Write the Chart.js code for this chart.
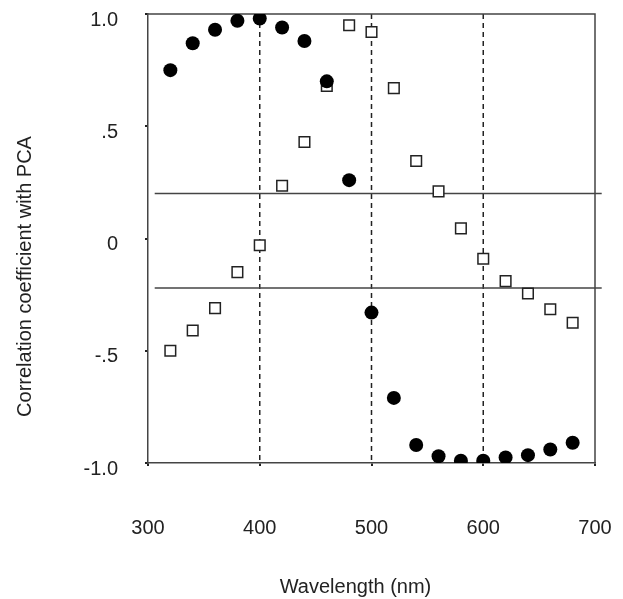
<!DOCTYPE html>
<html>
<head>
<meta charset="utf-8">
<script src="https://cdn.jsdelivr.net/npm/chart.js@4"></script>
<style>
  body { margin: 0; background: #fff; }
  canvas { display: block; }
</style>
</head>
<body>
<canvas id="pcaChart" width="623" height="599"></canvas>
<script>
// wavelength (nm) of each sample
const wavelengths = [320, 340, 360, 380, 400, 420, 440, 460, 480, 500, 520, 540, 560, 580, 600, 620, 640, 660, 680];
// filled circles
const circleValues = [0.75, 0.87, 0.93, 0.97, 0.98, 0.94, 0.88, 0.70, 0.26, -0.33, -0.71, -0.92, -0.97, -0.99, -0.99, -0.975, -0.965, -0.94, -0.91];
// open squares
const squareValues = [-0.50, -0.41, -0.31, -0.15, -0.03, 0.235, 0.43, 0.68, 0.95, 0.92, 0.67, 0.345, 0.21, 0.045, -0.09, -0.19, -0.245, -0.315, -0.375];

const yTickLabels = { "1": "1.0", "0.5": ".5", "0": "0", "-0.5": "-.5", "-1": "-1.0" };
const xTitle = "Wavelength (nm)";
const yTitle = "Correlation coefficient with PCA";
const dashedAt = [400, 500, 600];
const solidAt = [0.2, -0.22];
const solidFromTo = [306, 706];

const ink = "#222";
const lineGray = "#444";
const fontName = "'Liberation Sans', Arial, sans-serif";

function toPoints(vals) {
    return wavelengths.map((w, i) => ({ x: w, y: vals[i] }));
}

// reference lines and the box around the plot
const guideLines = {
    id: 'guideLines',
    beforeDatasetsDraw(chart) {
        const { ctx, chartArea: a, scales: { x, y } } = chart;
        ctx.save();
        ctx.strokeStyle = ink;
        ctx.lineWidth = 1.5;
        ctx.setLineDash([5, 4]);
        dashedAt.forEach(v => {
            const px = x.getPixelForValue(v);
            ctx.beginPath();
            ctx.moveTo(px, a.top);
            ctx.lineTo(px, a.bottom);
            ctx.stroke();
        });
        ctx.setLineDash([]);
        ctx.strokeStyle = lineGray;
        solidAt.forEach(v => {
            const py = y.getPixelForValue(v);
            ctx.beginPath();
            ctx.moveTo(x.getPixelForValue(solidFromTo[0]), py);
            ctx.lineTo(x.getPixelForValue(solidFromTo[1]), py);
            ctx.stroke();
        });
        // top and right edges
        ctx.beginPath();
        ctx.moveTo(a.left, a.top);
        ctx.lineTo(a.right, a.top);
        ctx.lineTo(a.right, a.bottom);
        ctx.stroke();
        ctx.restore();
    }
};

// axis titles sit a little off-centre in the original
const axisTitles = {
    id: 'axisTitles',
    afterDraw(chart) {
        const { ctx, chartArea: a } = chart;
        ctx.save();
        ctx.fillStyle = ink;
        ctx.font = "20px " + fontName;
        ctx.textAlign = "center";
        ctx.textBaseline = "middle";
        ctx.fillText(xTitle, (a.left + a.right) / 2 - 16, a.bottom + 124);
        ctx.translate(25, (a.top + a.bottom) / 2 + 38);
        ctx.rotate(-Math.PI / 2);
        ctx.fillText(yTitle, 0, 0);
        ctx.restore();
    }
};

new Chart("pcaChart", {
    type: "scatter",
    data: {
        datasets: [{
            label: "circles",
            data: toPoints(circleValues),
            pointStyle: "circle",
            pointRadius: 7,
            pointHoverRadius: 7,
            backgroundColor: "#000",
            borderColor: "#000",
            borderWidth: 0
        }, {
            label: "squares",
            data: toPoints(squareValues),
            pointStyle: "rect",
            pointRadius: 7.5,
            pointHoverRadius: 7.5,
            backgroundColor: "#fff",
            borderColor: "#222",
            borderWidth: 1.5
        }]
    },
    options: {
        responsive: false,
        animation: false,
        devicePixelRatio: 1,
        layout: { padding: { left: 0, right: 28, top: 14, bottom: 0 } },
        plugins: {
            legend: { display: false },
            tooltip: { enabled: false }
        },
        scales: {
            x: {
                type: "linear",
                min: 300,
                max: 700,
                ticks: {
                    stepSize: 100,
                    padding: 50,
                    color: ink,
                    font: { family: fontName, size: 20 }
                },
                grid: { drawOnChartArea: false, tickLength: 3, color: ink, lineWidth: 2 },
                border: { color: lineGray, width: 1.5 },
                afterFit(scale) {
                    scale.height = 136;
                    scale.paddingLeft = 0;
                    scale.paddingRight = 0;
                }
            },
            y: {
                min: -1,
                max: 1,
                ticks: {
                    stepSize: 0.5,
                    padding: 27,
                    labelOffset: 6,
                    color: ink,
                    font: { family: fontName, size: 20 },
                    callback: v => yTickLabels[String(v)]
                },
                grid: { drawOnChartArea: false, tickLength: 3, color: ink, lineWidth: 2 },
                border: { color: lineGray, width: 1.5 },
                afterFit(scale) {
                    scale.width = 148;
                    scale.paddingTop = 0;
                    scale.paddingBottom = 0;
                }
            }
        }
    },
    plugins: [guideLines, axisTitles]
});
</script>
</body>
</html>
